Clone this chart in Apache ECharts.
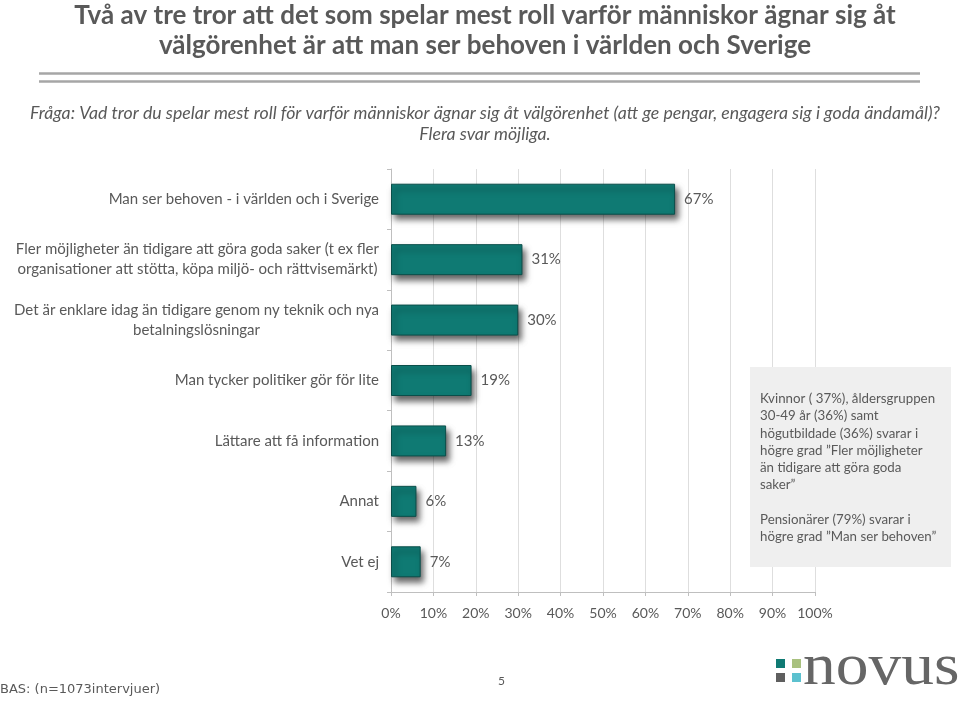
<!DOCTYPE html>
<html>
<head>
<meta charset="utf-8">
<script src="https://cdn.jsdelivr.net/npm/echarts@6/dist/echarts.min.js"></script>
<style>
html,body{margin:0;padding:0;background:#fff;}
#chart{width:960px;height:701px;}
</style>
</head>
<body>
<div id="chart"></div>
<script>
const categories = [
  'Man ser behoven - i världen och i Sverige',
  'Fler möjligheter än tidigare att göra goda saker (t ex fler\norganisationer att stötta, köpa miljö- och rättvisemärkt)',
  'Det är enklare idag än tidigare genom ny teknik och nya\nbetalningslösningar',
  'Man tycker politiker gör för lite',
  'Lättare att få information',
  'Annat',
  'Vet ej'
];
const values = [67, 31, 30, 19, 13, 6, 7];
const xTicks = [0, 10, 20, 30, 40, 50, 60, 70, 80, 90, 100];

const titleText = 'Två av tre tror att det som spelar mest roll varför människor ägnar sig åt\nvälgörenhet är att man ser behoven i världen och Sverige';
const subtitleText = 'Fråga: Vad tror du spelar mest roll för varför människor ägnar sig åt välgörenhet (att ge pengar, engagera sig i goda ändamål)?\nFlera svar möjliga.';
const noteText = 'Kvinnor ( 37%), åldersgruppen\n30-49 år (36%) samt\nhögutbildade (36%) svarar i\nhögre grad ”Fler möjligheter\nän tidigare att göra goda\nsaker”\n\nPensionärer (79%) svarar i\nhögre grad ”Man ser behoven”';
const baseText = 'BAS: (n=1073intervjuer)';
const pageText = '5';

const textColor = '#595959';
const chart = echarts.init(document.getElementById('chart'));

const option = {
  backgroundColor: '#ffffff',
  animation: false,
  title: [
    {
      text: titleText,
      left: 480, top: -4, textAlign: 'center',
      textStyle: {fontFamily: 'Lato', fontWeight: 'bold', fontSize: 26, color: textColor, lineHeight: 30}
    },
    {
      text: subtitleText,
      left: 480, top: 98, textAlign: 'center',
      textStyle: {fontFamily: 'Lato', fontStyle: 'italic', fontWeight: 'normal', fontSize: 17.7, color: textColor, lineHeight: 21}
    }
  ],
  grid: {left: 391, right: 145, top: 169, bottom: 109, containLabel: false},
  xAxis: {
    type: 'value', min: 0, max: 100, interval: 10,
    axisLine: {show: true, lineStyle: {color: '#bfbfbf'}},
    axisTick: {show: true, length: 4, lineStyle: {color: '#bfbfbf'}},
    splitLine: {show: true, lineStyle: {color: '#dedede'}},
    axisLabel: {formatter: '{value}%', color: textColor, fontFamily: 'Lato', fontSize: 14, margin: 14}
  },
  yAxis: {
    type: 'category', inverse: true, data: categories,
    axisLine: {show: true, lineStyle: {color: '#bfbfbf'}},
    axisTick: {show: true, length: 4, lineStyle: {color: '#bfbfbf'}},
    axisLabel: {
      color: textColor, fontFamily: 'Lato', fontSize: 15, lineHeight: 20, margin: 12,
      formatter: function (v) {
        if (v.indexOf('\n') >= 0) {
          return v.split('\n').map(function (l) { return '{c|' + l + '}'; }).join('\n');
        }
        return v;
      },
      rich: {c: {align: 'center', color: textColor, fontFamily: 'Lato', fontSize: 15, lineHeight: 20}}
    }
  },
  series: [{
    type: 'bar', data: values, barWidth: 31,
    itemStyle: {
      color: '#0f7a73', borderColor: '#0a4e4a', borderWidth: 1,
      shadowColor: 'rgba(0,0,0,0.6)', shadowBlur: 6, shadowOffsetX: 3, shadowOffsetY: 5
    },
    label: {
      show: true, position: 'right', distance: 9, formatter: '{c}%',
      color: textColor, fontFamily: 'Lato', fontSize: 15
    }
  }],
  graphic: [
    {type: 'line', shape: {x1: 39, y1: 73.5, x2: 920, y2: 73.5}, style: {stroke: '#a6a6a6', lineWidth: 2.5}},
    {type: 'line', shape: {x1: 39, y1: 81.5, x2: 920, y2: 81.5}, style: {stroke: '#a6a6a6', lineWidth: 2.5}},
    {type: 'rect', z: 100, shape: {x: 750, y: 367, width: 201, height: 200}, style: {fill: '#efefef'}},
    {type: 'text', z: 101, left: 760, top: 390, style: {text: noteText, fill: textColor, font: '13.3px Lato', lineHeight: 17.3}},
    {type: 'text', left: 0, top: 683, style: {text: baseText, fill: textColor, font: '13px "DejaVu Sans"'}},
    {type: 'text', left: 498, top: 675, style: {text: pageText, fill: textColor, font: '12px Lato'}},
    {type: 'rect', shape: {x: 776, y: 659, width: 9, height: 9}, style: {fill: '#0f7a73'}},
    {type: 'rect', shape: {x: 792, y: 659, width: 9, height: 9}, style: {fill: '#a9c17f'}},
    {type: 'rect', shape: {x: 776, y: 673, width: 9, height: 9}, style: {fill: '#5f5f5f'}},
    {type: 'rect', shape: {x: 792, y: 673, width: 9, height: 9}, style: {fill: '#5cc1cf'}},
    {type: 'text', left: 803, top: 639, scaleX: 1.17, scaleY: 1.05, style: {text: 'novus', fill: '#666666', font: '56px "Liberation Serif"'}}
  ]
};
chart.setOption(option);
</script>
</body>
</html>
